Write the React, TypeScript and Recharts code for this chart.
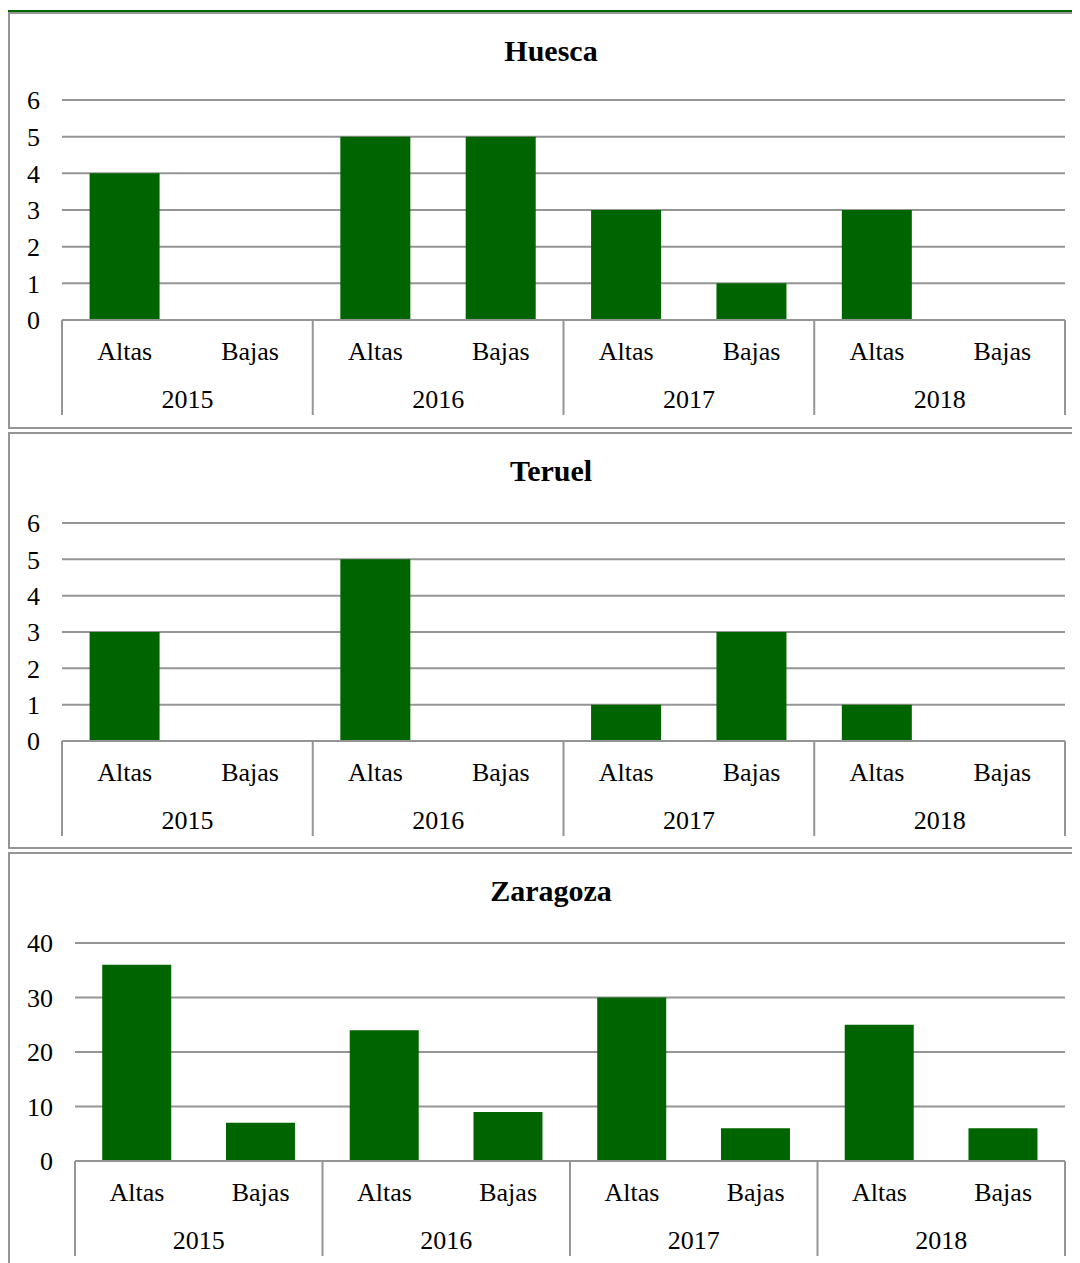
import React from "react";
import { BarChart, Bar, XAxis, YAxis, CartesianGrid } from "recharts";

const years = ["2015", "2016", "2017", "2018"];
const kinds = ["Altas", "Bajas"];

const huesca = [4, 0, 5, 5, 3, 1, 3, 0];
const teruel = [3, 0, 5, 0, 1, 3, 1, 0];
const zaragoza = [36, 7, 24, 9, 30, 6, 25, 6];

const smallTicks = [0, 1, 2, 3, 4, 5, 6];
const bigTicks = [0, 10, 20, 30, 40];

const FONT = '"Liberation Serif", "Times New Roman", serif';
const GREEN = "#006400";
const GRAY = "#959595";
const W = 1082;
const H = 413;
const RIGHT = 27;

const buildRows = (vals: number[]) =>
	years.flatMap((year, i) =>
		kinds.map((kind, j) => ({ year, kind, value: vals[i * 2 + j] }))
	);

const textStyle = { fontFamily: FONT, fontSize: 26, fill: "#000" };

const makeTick = (step: number, n: number, rows: { year: string }[]) => (props: any) => {
	const { x, y, payload, index } = props;
	return (
		<g>
			<text x={x} y={y + 31} dy="0.355em" textAnchor="middle" style={textStyle}>
				{payload.value}
			</text>
			{index % 2 === 0 && (
				<>
					<text x={x + step / 2} y={y + 79} dy="0.355em" textAnchor="middle" style={textStyle}>
						{rows[index].year}
					</text>
					<line x1={x - step / 2} x2={x - step / 2} y1={y} y2={y + 95} stroke={GRAY} strokeWidth={2} />
				</>
			)}
			{index === n - 1 && (
				<line x1={x + step / 2} x2={x + step / 2} y1={y} y2={y + 95} stroke={GRAY} strokeWidth={2} />
			)}
		</g>
	);
};

type PanelProps = {
	title: string;
	values: number[];
	ticks: number[];
	yWidth: number;
	top: number;
	plotH: number;
};

const Panel = ({ title, values, ticks, yWidth, top, plotH }: PanelProps) => {
	const rows = buildRows(values);
	const step = (W - RIGHT - yWidth) / rows.length;
	return (
		<div
			style={{
				position: "relative",
				width: 1086,
				height: 417,
				boxSizing: "border-box",
				border: `2px solid ${GRAY}`,
				marginBottom: 3,
				background: "#fff",
			}}
		>
			<div
				style={{
					position: "absolute",
					top: 20,
					left: 0,
					width: "100%",
					height: 34,
					lineHeight: "34px",
					textAlign: "center",
					fontFamily: FONT,
					fontWeight: "bold",
					fontSize: 30,
				}}
			>
				{title}
			</div>
			<BarChart
				width={W}
				height={H}
				data={rows}
				margin={{ top, right: RIGHT, left: 0, bottom: H - top - plotH - 95 }}
				barCategoryGap="22%"
				style={{ fontFamily: FONT }}
			>
				<CartesianGrid vertical={false} stroke={GRAY} strokeWidth={2} />
				<XAxis
					dataKey="kind"
					height={95}
					interval={0}
					tickLine={false}
					tickSize={0}
					tickMargin={0}
					axisLine={{ stroke: GRAY, strokeWidth: 2 }}
					tick={makeTick(step, rows.length, rows)}
				/>
				<YAxis
					width={yWidth}
					domain={[ticks[0], ticks[ticks.length - 1]]}
					ticks={ticks}
					axisLine={false}
					tickLine={false}
					tickSize={0}
					tickMargin={22}
					tick={{ ...textStyle, style: { fontFamily: FONT } }}
				/>
				<Bar dataKey="value" fill={GREEN} isAnimationActive={false} />
			</BarChart>
		</div>
	);
};

export default function App() {
	return (
		<div style={{ width: 1072, overflow: "hidden", paddingTop: 2, fontFamily: FONT }}>
			<style>{"body{overflow:hidden}"}</style>
			<div style={{ height: 2, background: GREEN }} />
			<Panel title="Huesca" values={huesca} ticks={smallTicks} yWidth={52} top={86} plotH={220} />
			<Panel title="Teruel" values={teruel} ticks={smallTicks} yWidth={52} top={89} plotH={218} />
			<Panel title="Zaragoza" values={zaragoza} ticks={bigTicks} yWidth={65} top={89} plotH={218} />
		</div>
	);
}
